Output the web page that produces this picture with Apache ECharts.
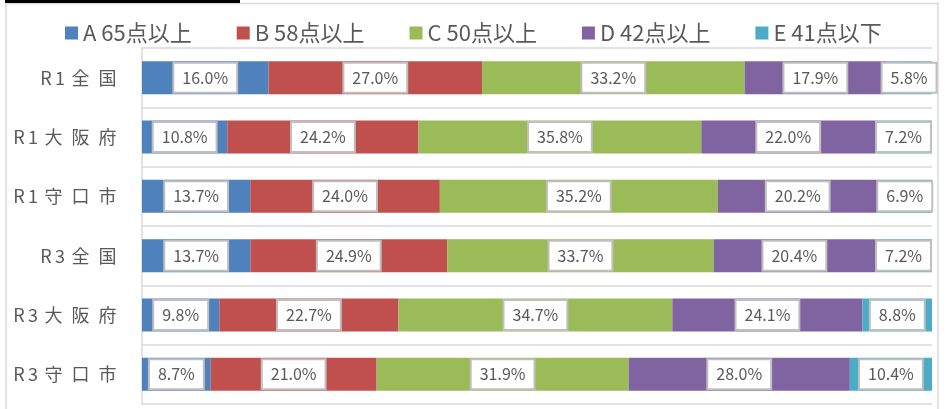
<!DOCTYPE html>
<html><head><meta charset="utf-8">
<script src="https://cdn.jsdelivr.net/npm/echarts@6/dist/echarts.min.js"></script>
<style>html,body{margin:0;padding:0;background:#fff}#c{width:948px;height:409px}</style>
</head><body><div id="c"></div>
<script>
const categories = ['R1全国','R1大阪府','R1守口市','R3全国','R3大阪府','R3守口市'];
const seriesNames = ['A 65点以上','B 58点以上','C 50点以上','D 42点以上','E 41点以下'];
const valuesA = [16.0, 10.8, 13.7, 13.7, 9.8, 8.7];
const valuesB = [27.0, 24.2, 24.0, 24.9, 22.7, 21.0];
const valuesC = [33.2, 35.8, 35.2, 33.7, 34.7, 31.9];
const valuesD = [17.9, 22.0, 20.2, 20.4, 24.1, 28.0];
const valuesE = [5.8, 7.2, 6.9, 7.2, 8.8, 10.4];
const colors = ['#4F81BD','#C0504D','#9BBB59','#8064A2','#4BACC6'];

const all = [valuesA, valuesB, valuesC, valuesD, valuesE];
const totals = categories.map((_, i) => all.reduce((s, arr) => s + arr[i], 0));
const FONT = '"Noto Sans CJK JP", "Noto Sans", sans-serif';

const chart = echarts.init(document.getElementById('c'));
chart.setOption({
  animation: false,
  textStyle: { fontFamily: FONT },
  graphic: [
    { type: 'rect', shape: { x: 6, y: 3.5, width: 932, height: 420 }, style: { fill: 'none', stroke: '#d9d9d9', lineWidth: 1.5 }, silent: true },
    { type: 'rect', shape: { x: 5, y: 0, width: 235, height: 3 }, style: { fill: '#000' }, silent: true }
  ],
  legend: {
    left: 60, top: 17,
    itemWidth: 13, itemHeight: 13, itemGap: 45,
    icon: 'rect',
    textStyle: { fontSize: 22, color: '#595959', fontFamily: FONT },
    data: seriesNames
  },
  grid: { left: 142, right: 16, top: 48, bottom: 5 },
  xAxis: { type: 'value', min: 0, max: 100, show: false },
  yAxis: {
    type: 'category', inverse: true, data: categories,
    axisLine: { show: true, lineStyle: { color: '#d9d9d9', width: 1.5 } },
    axisTick: { show: false },
    splitLine: { show: true, lineStyle: { color: '#d9d9d9', width: 1.5 } },
    axisLabel: {
      margin: 21,
      formatter: v => v.split('').map(ch => (/[\x00-\x7f]/.test(ch) ? '{h|' : '{f|') + ch + '}').join(''),
      rich: {
        h: { width: 14, align: 'center', fontSize: 18, color: '#595959', fontFamily: FONT },
        f: { width: 27, align: 'center', fontSize: 18, color: '#595959', fontFamily: FONT }
      }
    }
  },
  series: all.map((arr, k) => ({
    name: seriesNames[k],
    type: 'bar',
    stack: 'total',
    barWidth: 33,
    itemStyle: { color: colors[k] },
    data: arr.map((v, i) => ({ value: v / totals[i] * 100, raw: v })),
    label: {
      show: true, position: 'inside',
      formatter: p => p.data.raw.toFixed(1) + '%',
      color: '#595959', fontSize: 16, lineHeight: 18,
      backgroundColor: '#fff', borderColor: '#bfbfbf', borderWidth: 2,
      padding: [5, 8], fontFamily: FONT
    }
  }))
});
</script></body></html>
